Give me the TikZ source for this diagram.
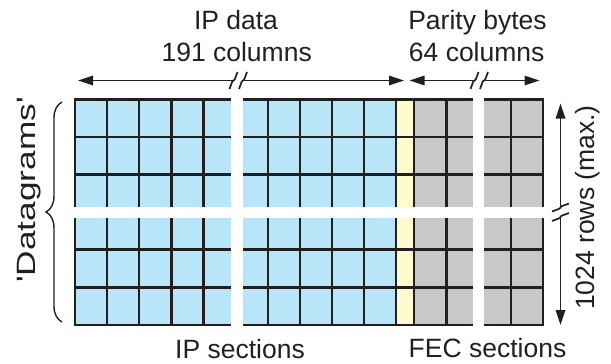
\documentclass[tikz,border=0pt]{standalone}
\usepackage{graphicx}
\usepackage{fontspec}
\setmainfont{Liberation Sans}[Ligatures=TeXOff]
\usetikzlibrary{arrows.meta,decorations.pathreplacing}
\definecolor{ink}{HTML}{231F20}
\definecolor{ipblue}{HTML}{B9E5F9}
\definecolor{fecgrey}{HTML}{C8C8C9}
\definecolor{padyellow}{HTML}{FFFACD}

\begin{document}
\begin{tikzpicture}[x=1pt,y=-1pt,
  gridline/.style={draw=ink, line width=2.6pt},
  dimline/.style={draw=ink, line width=1.7pt},
  dimtip/.style={-{Triangle[length=15pt,width=9.5pt]}},
  brk/.style={draw=ink, line width=1.7pt, line join=miter},
  lbl/.style={font=\fontsize{26.5}{30}\selectfont, text=ink, inner sep=0pt},
]
\useasboundingbox (0,0) rectangle (611,364);

% cell fills: IP data, padding column, parity bytes
\fill[ipblue]    (75,99.3) rectangle (396,325);
\fill[padyellow] (396,99.3) rectangle (414,325);
\fill[fecgrey]   (414,99.3) rectangle (543,325);

% grid lines
\foreach \x in {107,139,171.5,203.5,268,300,332,364,396,414,446.5,511}
  \draw[gridline] (\x,99.3) -- (\x,325);
\foreach \y in {137,174.7,249.5,287.3}
  \draw[gridline] (75,\y) -- (543,\y);
\draw[gridline] (75,99.3) rectangle (543,325);

% breaks in the table
\fill[white] (231,94) rectangle (243,331);
\fill[white] (472.5,94) rectangle (484,331);
\fill[white] (68,207) rectangle (549,217.5);

% break mark across a horizontal dimension line
\newcommand{\hbrk}[1]{%
  \draw[brk] ([shift={(-4,8.5)}]#1) -- ([shift={(-1.2,1)}]#1)
    -- ([shift={(1.2,-1)}]#1) -- ([shift={(4,-8.5)}]#1);}
% break mark across a vertical dimension line
\newcommand{\vbrk}[1]{%
  \draw[brk] ([shift={(-8.5,4)}]#1) -- ([shift={(-1,1.2)}]#1)
    -- ([shift={(1,-1.2)}]#1) -- ([shift={(8.5,-4)}]#1);}

% column dimension: IP data
\coordinate (ipL) at (78,80.5);
\coordinate (ipR) at (404,80.5);
\coordinate (ipB1) at (233.5,80.5);
\coordinate (ipB2) at (243,80.5);
\draw[dimline,dimtip] (ipB1) -- (ipL);
\draw[dimline,dimtip] (ipB2) -- (ipR);
\hbrk{ipB1}
\hbrk{ipB2}

% column dimension: parity bytes
\coordinate (fecL) at (409.5,80.5);
\coordinate (fecR) at (539.5,80.5);
\coordinate (fecB1) at (474.5,80.5);
\coordinate (fecB2) at (484,80.5);
\draw[dimline,dimtip] (fecB1) -- (fecL);
\draw[dimline,dimtip] (fecB2) -- (fecR);
\hbrk{fecB1}
\hbrk{fecB2}

% row dimension
\coordinate (rowT) at (560.5,103.5);
\coordinate (rowB) at (560.5,325);
\coordinate (rowB1) at (560.5,207.5);
\coordinate (rowB2) at (560.5,217);
\draw[dimline,dimtip] (rowB1) -- (rowT);
\draw[dimline,dimtip] (rowB2) -- (rowB);
\vbrk{rowB1}
\vbrk{rowB2}

% datagram brace
\coordinate (brB) at (62,322);
\coordinate (brT) at (62,102);
\draw[ink, line width=1.4pt, decorate, decoration={brace, amplitude=16pt}] (brB) -- (brT);

% labels
\node[lbl, anchor=base] (ipdata) at (236,29.5) {IP data};
\node[lbl, anchor=base] (ipcols) at (236.7,61) {191 columns};
\node[lbl, anchor=base] (parity) at (477.5,29.5) {Parity bytes};
\node[lbl, anchor=base] (feccols) at (476.7,61) {64 columns};
\node[lbl, anchor=base] (ipsec) at (240,358) {IP sections};
\node[lbl, anchor=base] (fecsec) at (487.5,357.5) {FEC sections};
\node[lbl, rotate=90] (rows) at (587.5,207.5) {1024 rows (max.)};
\node[lbl, rotate=90] (dgram) at (29,190)
  {\scalebox{1.33}[1]{'Datagrams'}};
\end{tikzpicture}
\end{document}
